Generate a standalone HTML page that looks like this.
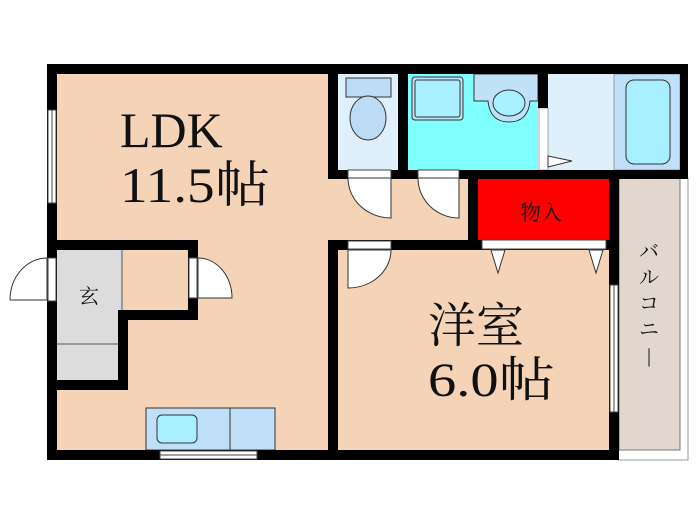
<!DOCTYPE html>
<html><head><meta charset="utf-8"><style>
html,body{margin:0;padding:0;background:#fff;width:700px;height:525px;overflow:hidden}
svg{display:block}
</style></head><body>
<svg width="700" height="525" viewBox="0 0 700 525" xmlns="http://www.w3.org/2000/svg">
<rect x="57" y="74" width="272" height="377" fill="#f4d3b6"/>
<rect x="328" y="170" width="142" height="72" fill="#f4d3b6"/>
<rect x="338" y="249" width="272" height="202" fill="#f4d3b6"/>
<rect x="618" y="178" width="70" height="282" fill="#fff" stroke="#999" stroke-width="1"/>
<rect x="619" y="178" width="61" height="272" fill="#e1d7cd" stroke="#777" stroke-width="1"/>
<rect x="338" y="74" width="60" height="96" fill="#dff0fb"/>
<rect x="346" y="78" width="45" height="19" fill="#bcdcf5" stroke="#333" stroke-width="1"/>
<ellipse cx="368" cy="118" rx="18" ry="22" fill="#bcdcf5" stroke="#333" stroke-width="1"/>
<rect x="408" y="74" width="130" height="96" fill="#80ffff"/>
<rect x="412" y="77" width="51" height="43" rx="3" fill="#bfe2f8" stroke="#333" stroke-width="1"/>
<rect x="415" y="80" width="45" height="37" rx="2" fill="#a8f0ff" stroke="#333" stroke-width="1"/>
<path d="M474 74 H538 V101 H530 Q528 122 509 122 Q490 122 488 101 H474 Z" fill="#bfe2f8" stroke="#333" stroke-width="1"/>
<ellipse cx="509" cy="103" rx="16" ry="13" fill="#a8f0ff" stroke="#333" stroke-width="1"/>
<rect x="548" y="74" width="66" height="96" fill="#dff0fb"/>
<rect x="614" y="74" width="66" height="96" fill="#bfe0f8" stroke="#555" stroke-width="0.5"/>
<rect x="626" y="80" width="44" height="84" rx="8" fill="#a8f0ff" stroke="#333" stroke-width="1"/>
<rect x="539" y="108" width="9" height="62" fill="#fff" stroke="#555" stroke-width="0.5"/>
<path d="M548 156 L572 161 L548 167 Z" fill="#fff" stroke="#333" stroke-width="1"/>
<rect x="478" y="179" width="131" height="61" fill="#ff0000"/>
<rect x="57" y="250" width="65" height="60" fill="#dcdcdc"/>
<rect x="57" y="310" width="61" height="70" fill="#dcdcdc"/>
<line x1="57" y1="344" x2="118" y2="344" stroke="#555" stroke-width="1"/>
<line x1="122" y1="250" x2="122" y2="310" stroke="#555" stroke-width="1"/>
<rect x="146" y="408" width="129" height="42" fill="#bfe0f8" stroke="#333" stroke-width="1"/>
<line x1="230" y1="408" x2="230" y2="450" stroke="#333" stroke-width="1"/>
<rect x="157" y="415" width="40" height="28" rx="5" fill="#a8f0ff" stroke="#333" stroke-width="1"/>
<g fill="#000">
<rect x="47" y="64" width="641" height="10"/>
<rect x="47" y="64" width="10" height="396"/>
<rect x="47" y="450" width="572" height="10"/>
<rect x="680" y="64" width="8" height="114"/>
<rect x="328" y="64" width="10" height="114"/>
<rect x="398" y="64" width="10" height="114"/>
<rect x="538" y="64" width="10" height="44"/>
<rect x="328" y="170" width="360" height="9"/>
<rect x="468" y="170" width="10" height="80"/>
<rect x="609" y="170" width="10" height="290"/>
<rect x="328" y="240" width="290" height="10"/>
<rect x="328" y="240" width="10" height="220"/>
<rect x="47" y="240" width="151" height="10"/>
<rect x="188" y="240" width="10" height="80"/>
<rect x="118" y="310" width="80" height="10"/>
<rect x="118" y="310" width="10" height="80"/>
<rect x="47" y="380" width="81" height="10"/>
</g>
<g fill="#fff" stroke="#444" stroke-width="1">
<rect x="48" y="110" width="8" height="93"/>
<rect x="160" y="451" width="97" height="8"/>
<rect x="610" y="285" width="8" height="127"/>
</g>
<g stroke="#444" stroke-width="1">
<line x1="52" y1="110" x2="52" y2="203"/>
<line x1="160" y1="455" x2="257" y2="455"/>
<line x1="614" y1="285" x2="614" y2="412"/>
</g>
<g fill="#fff" stroke="#444" stroke-width="1">
<rect x="348" y="170" width="43" height="8"/>
<rect x="418" y="170" width="41" height="8"/>
<rect x="348" y="241" width="43" height="8"/>
<rect x="482" y="240" width="124" height="9"/>
<rect x="48" y="258" width="8" height="43"/>
<rect x="189" y="258" width="8" height="40"/>
</g>
<g fill="#fff" stroke="#333" stroke-width="1">
<path d="M391 178 V218 A43 40 0 0 1 348 178 Z"/>
<path d="M459 178 V218 A41 40 0 0 1 418 178 Z"/>
<path d="M348 250 V288 A43 38 0 0 0 391 250 Z"/>
<path d="M47 300 H10 A37 42 0 0 1 47 258 Z"/>
<path d="M198 258 A34 40 0 0 1 232 298 H198 Z"/>
<path d="M491 250 L505 250 L498 273 Z"/>
<path d="M589 250 L603 250 L596 273 Z"/>
</g>
<g font-family="'Liberation Serif', 'Noto Serif CJK SC', serif" fill="#111">
<text x="120" y="147" font-size="50">LDK</text>
<text x="120" y="202" font-size="50" textLength="150" lengthAdjust="spacingAndGlyphs">11.5帖</text>
<text x="428" y="342" font-size="48">洋室</text>
<text x="428" y="396" font-size="48" textLength="127" lengthAdjust="spacingAndGlyphs">6.0帖</text>
<text x="520" y="220" font-size="21">物入</text>
<text x="79" y="303" font-size="20">玄</text>
<text x="639" y="258" font-size="20">バ</text>
<text x="639" y="284" font-size="20">ル</text>
<text x="639" y="310" font-size="20">コ</text>
<text x="639" y="336" font-size="20">ニ</text>
<text x="647" y="362" font-size="20">|</text>
</g>
</svg>
</body></html>
